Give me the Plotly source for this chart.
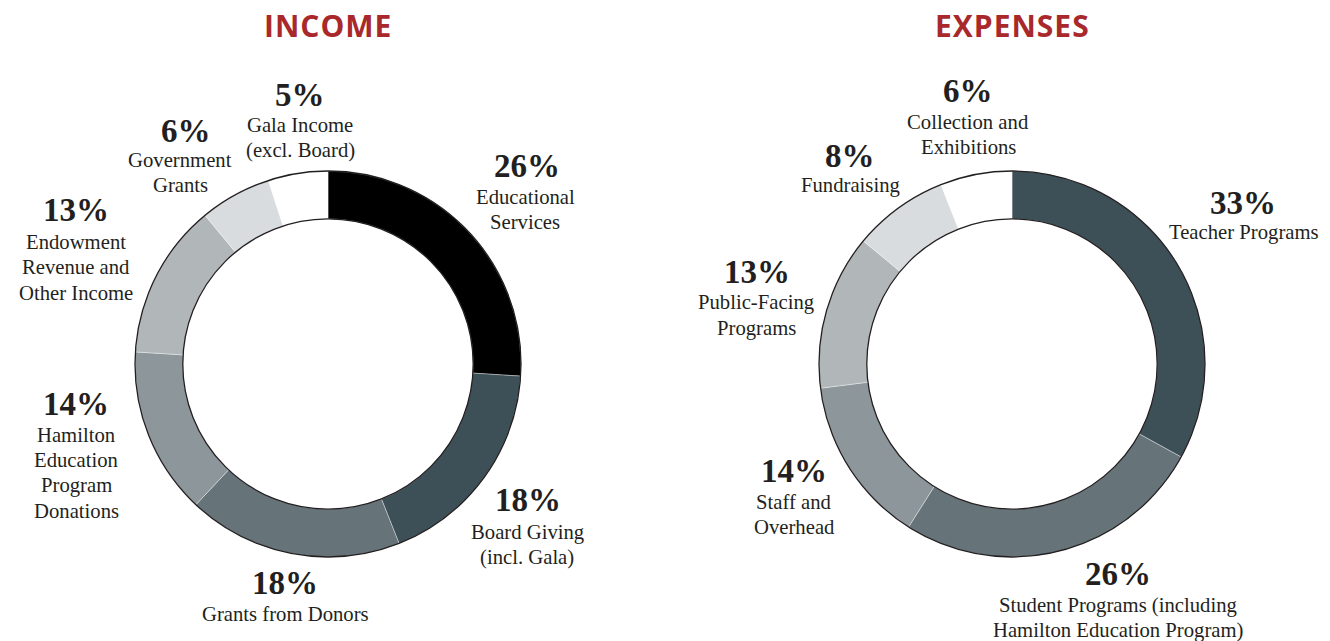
import plotly.graph_objects as go

# ---------------- data ----------------
income_labels = ["Educational Services", "Board Giving (incl. Gala)", "Grants from Donors",
                 "Hamilton Education Program Donations", "Endowment Revenue and Other Income",
                 "Government Grants", "Gala Income (excl. Board)"]
income_values = [26, 18, 18, 14, 13, 6, 5]
income_text = [["Educational", "Services"], ["Board Giving", "(incl. Gala)"], ["Grants from Donors"],
               ["Hamilton", "Education", "Program", "Donations"],
               ["Endowment", "Revenue and", "Other Income"],
               ["Government", "Grants"], ["Gala Income", "(excl. Board)"]]

expense_labels = ["Teacher Programs", "Student Programs (including Hamilton Education Program)",
                  "Staff and Overhead", "Public-Facing Programs", "Fundraising", "Collection and Exhibitions"]
expense_values = [33, 26, 14, 13, 8, 6]
expense_text = [["Teacher Programs"], ["Student Programs (including", "Hamilton Education Program)"],
                ["Staff and", "Overhead"], ["Public-Facing", "Programs"], ["Fundraising"],
                ["Collection and", "Exhibitions"]]

titles = ["INCOME", "EXPENSES"]

# ---------------- styles / layout ----------------
W, H = 1330, 641
income_colors = ["#000000", "#3d4f57", "#66747a", "#8d979b", "#b1b7b9", "#d8dcde", "#ffffff"]
expense_colors = ["#3d4f57", "#66747a", "#8d979b", "#b1b7b9", "#d8dcde", "#ffffff"]
TEXT = "#231f20"
RED = "#a8282b"
SERIF = "Liberation Serif, Times New Roman, serif"

R = 193
HOLE = 0.752
centers = [(328, 364), (1012, 364)]

# label placement (pixels): percent centre x, y; label x; first-line centre y
income_pos = [(527, 166, 525, 197), (528, 500, 527, 532), (285, 583, 285, 614),
              (76, 404, 76, 435), (76, 210, 76, 242), (186, 131, 180, 160), (300, 95, 300, 125)]
expense_pos = [(1243, 203, 1244, 233), (1118, 574, 1118, 605), (794, 471, 794, 502),
               (757, 272, 756, 303), (850, 156, 850, 185), (968, 91, 968, 122)]
LINE_H = 25.4
PCT_SIZE = 33
LBL_SIZE = 20.7


def px(x):
    return x / W


def py(y):
    return 1 - y / H


fig = go.Figure()
annotations = []

for (cx, cy), labels, values, colors, texts, pos, title in [
    (centers[0], income_labels, income_values, income_colors, income_text, income_pos, titles[0]),
    (centers[1], expense_labels, expense_values, expense_colors, expense_text, expense_pos, titles[1]),
]:
    dom = dict(x=[px(cx - R), px(cx + R)], y=[py(cy + R), py(cy - R)])
    fig.add_trace(go.Pie(
        labels=labels, values=values, sort=False, direction="clockwise", rotation=0,
        hole=HOLE, domain=dom, textinfo="none", showlegend=False,
        marker=dict(colors=colors, line=dict(color="rgba(255,255,255,0.6)", width=0.6)),
        hovertemplate="%{label}: %{value}%<extra></extra>",
    ))
    # ring outline (outer + inner circle)
    fig.add_trace(go.Pie(
        labels=["ring"], values=[1], sort=False, hole=HOLE, domain=dom, textinfo="none",
        showlegend=False, hoverinfo="skip",
        marker=dict(colors=["rgba(0,0,0,0)"], line=dict(color=TEXT, width=1.3)),
    ))
    total = sum(values)
    for v, lines, (xp, yp, xl, yl) in zip(values, texts, pos):
        annotations.append(dict(
            x=px(xp), y=py(yp), xref="paper", yref="paper", xanchor="center", yanchor="middle",
            text=f"<b>{round(100 * v / total)}%</b>", showarrow=False,
            font=dict(family=SERIF, size=PCT_SIZE, color=TEXT)))
        for i, line in enumerate(lines):
            annotations.append(dict(
                x=px(xl), y=py(yl + LINE_H * i), xref="paper", yref="paper",
                xanchor="center", yanchor="middle",
                text=line, showarrow=False, font=dict(family=SERIF, size=LBL_SIZE, color=TEXT)))
    annotations.append(dict(
        x=px(cx), y=py(26), xref="paper", yref="paper", xanchor="center", yanchor="middle",
        text=f"<span style='letter-spacing:1px'><b>{title}</b></span>", showarrow=False,
        font=dict(family="Open Sans, sans-serif", size=30, color=RED)))

fig.update_layout(
    width=W, height=H, margin=dict(l=0, r=0, t=0, b=0),
    paper_bgcolor="white", plot_bgcolor="white",
    annotations=annotations,
)

fig.write_html("out.html")
